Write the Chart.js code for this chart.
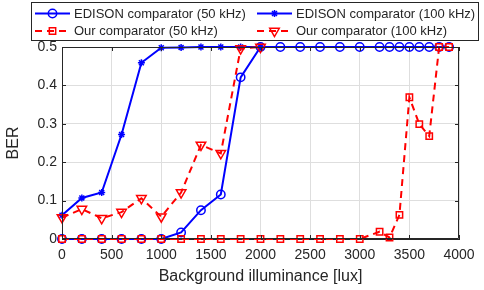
<!DOCTYPE html>
<html>
<head>
<meta charset="utf-8">
<script src="https://cdn.jsdelivr.net/npm/chart.js@4/dist/chart.umd.min.js"></script>
<style>
    html, body { margin: 0; padding: 0; background: #fff; }
</style>
</head>
<body>
<canvas id="grafico-ber" width="484" height="290"></canvas>
<script>
// --- 1. DATOS ---
const luxLargo = [0, 200, 400, 600, 800, 1000, 1200, 1400, 1600, 1800, 2000, 2200, 2400, 2600, 2800, 3000,
                  3200, 3300, 3400, 3500, 3600, 3700, 3800, 3900];
const luxCorto = [0, 200, 400, 600, 800, 1000, 1200, 1400, 1600, 1800, 2000];

const berEdison50 = [0, 0, 0, 0, 0, 0, 0.017, 0.075, 0.116, 0.421, 0.5, 0.5, 0.5, 0.5, 0.5, 0.5,
                     0.5, 0.5, 0.5, 0.5, 0.5, 0.5, 0.5, 0.5];
const berEdison100 = [0.062, 0.107, 0.121, 0.272, 0.459, 0.498, 0.499, 0.5, 0.5, 0.5, 0.5];
const berNuestro50 = [0, 0, 0, 0, 0, 0, 0, 0, 0, 0, 0, 0, 0, 0, 0, 0,
                      0.019, 0.004, 0.063, 0.369, 0.299, 0.268, 0.5, 0.5];
const berNuestro100 = [0.056, 0.078, 0.054, 0.07, 0.106, 0.058, 0.121, 0.245, 0.223, 0.496, 0.5];

const etiquetas = ['EDISON comparator (50 kHz)', 'EDISON comparator (100 kHz)',
                   'Our comparator (50 kHz)', 'Our comparator (100 kHz)'];
const ticksX = [0, 500, 1000, 1500, 2000, 2500, 3000, 3500, 4000];
const ticksY = [0, 0.1, 0.2, 0.3, 0.4, 0.5];

const AZUL = '#0000ff';
const ROJO = '#ff0000';
const GRIS = '#262626';
const FUENTE = "'Liberation Sans', Arial, sans-serif";

const puntos = (xs, ys) => xs.map((x, i) => ({ x: x, y: ys[i] }));

// --- 2. PLUGIN: caja estilo MATLAB + leyenda ---
function dibujarMarcador(ctx, ds, x, y) {
    const r = ds.pointRadius;
    ctx.save();
    ctx.setLineDash([]);
    ctx.strokeStyle = ds.pointBorderColor;
    ctx.lineWidth = ds.pointBorderWidth;
    ctx.beginPath();
    if (ds.pointStyle === 'circle') {
        ctx.arc(x, y, r, 0, Math.PI * 2);
    } else if (ds.pointStyle === 'rect') {
        const s = r * Math.SQRT1_2;
        ctx.rect(x - s, y - s, 2 * s, 2 * s);
    } else if (ds.pointStyle === 'triangle') {
        let a = Math.PI; // apuntando hacia abajo
        ctx.moveTo(x + Math.sin(a) * r, y - Math.cos(a) * r);
        a += 2 * Math.PI / 3;
        ctx.lineTo(x + Math.sin(a) * r, y - Math.cos(a) * r);
        a += 2 * Math.PI / 3;
        ctx.lineTo(x + Math.sin(a) * r, y - Math.cos(a) * r);
        ctx.closePath();
    } else if (ds.pointStyle === 'star') {
        for (let k = 0; k < 4; k++) {
            const a = k * Math.PI / 4;
            ctx.moveTo(x - Math.cos(a) * r, y - Math.sin(a) * r);
            ctx.lineTo(x + Math.cos(a) * r, y + Math.sin(a) * r);
        }
    }
    ctx.stroke();
    ctx.restore();
}

const cajaYLeyenda = {
    id: 'cajaYLeyenda',
    afterDraw(chart) {
        const ctx = chart.ctx;
        const a = chart.chartArea;
        const sx = chart.scales.x, sy = chart.scales.y;
        ctx.save();

        // Marco completo y marcas hacia dentro
        ctx.strokeStyle = GRIS;
        ctx.lineWidth = 1;
        ctx.beginPath();
        ctx.rect(a.left + 0.5, a.top + 0.5, a.right - a.left - 1, a.bottom - a.top - 1);
        ticksX.forEach(v => {
            const px = Math.round(sx.getPixelForValue(v)) + 0.5;
            ctx.moveTo(px, a.bottom); ctx.lineTo(px, a.bottom - 4);
            ctx.moveTo(px, a.top); ctx.lineTo(px, a.top + 4);
        });
        ticksY.forEach(v => {
            const py = Math.round(sy.getPixelForValue(v)) + 0.5;
            ctx.moveTo(a.left, py); ctx.lineTo(a.left + 4, py);
            ctx.moveTo(a.right, py); ctx.lineTo(a.right - 4, py);
        });
        ctx.stroke();

        // Leyenda 2x2 con borde
        ctx.fillStyle = '#fff';
        ctx.fillRect(31.5, 2.5, 447, 38);
        ctx.strokeRect(31.5, 2.5, 447, 38);
        const columnas = [35, 257];
        const filas = [13.5, 31];
        chart.data.datasets.forEach((ds, i) => {
            const x0 = columnas[i % 2];
            const y = filas[Math.floor(i / 2)];
            ctx.strokeStyle = ds.borderColor;
            ctx.lineWidth = ds.borderWidth;
            ctx.setLineDash(ds.borderDash || []);
            ctx.beginPath();
            ctx.moveTo(x0, y); ctx.lineTo(x0 + 35, y);
            ctx.stroke();
            ctx.setLineDash([]);
            dibujarMarcador(ctx, ds, x0 + 17.5, y);
            ctx.fillStyle = GRIS;
            ctx.font = '13px ' + FUENTE;
            ctx.textBaseline = 'middle';
            ctx.fillText(ds.label, x0 + 39, y + 0.5);
        });
        ctx.restore();
    }
};

// --- 3. GRÁFICO ---
const serie = (label, xs, ys, color, estilo, radio, extra) => Object.assign({
    label: label,
    data: puntos(xs, ys),
    borderColor: color,
    borderWidth: 2,
    pointStyle: estilo,
    pointRadius: radio,
    pointBorderWidth: 1.5,
    pointBorderColor: color,
    pointBackgroundColor: 'rgba(0,0,0,0)',
    tension: 0,
    clip: false
}, extra);

new Chart(document.getElementById('grafico-ber'), {
    type: 'line',
    data: {
        datasets: [
            serie(etiquetas[0], luxLargo, berEdison50, AZUL, 'circle', 4.2, { order: 4 }),
            serie(etiquetas[1], luxCorto, berEdison100, AZUL, 'star', 3.5, { order: 3 }),
            serie(etiquetas[2], luxLargo, berNuestro50, ROJO, 'rect', 4.5, { order: 2, borderDash: [7, 5] }),
            serie(etiquetas[3], luxCorto, berNuestro100, ROJO, 'triangle', 5.5, { order: 1, borderDash: [7, 5], pointRotation: 180 })
        ]
    },
    options: {
        responsive: false,
        animation: false,
        events: [],
        layout: { padding: { left: 0, right: 25, top: 47, bottom: 0 } },
        plugins: {
            legend: { display: false },
            tooltip: { enabled: false }
        },
        scales: {
            x: {
                type: 'linear',
                min: 0,
                max: 4000,
                afterBuildTicks: s => { s.ticks = ticksX.map(v => ({ value: v })); },
                afterFit: s => { s.height = 51; },
                grid: { color: '#dedede', drawTicks: false },
                border: { color: GRIS },
                ticks: {
                    font: { family: FUENTE, size: 14 }, color: GRIS, padding: 8, maxRotation: 0, autoSkip: false,
                    callback: v => String(v)
                },
                title: { display: true, text: 'Background illuminance [lux]', font: { family: FUENTE, size: 16 }, color: GRIS, padding: { top: 0, bottom: 4 } }
            },
            y: {
                type: 'linear',
                min: 0,
                max: 0.5,
                afterBuildTicks: s => { s.ticks = ticksY.map(v => ({ value: v })); },
                afterFit: s => { s.width = 62; },
                grid: { color: '#dedede', drawTicks: false },
                border: { color: GRIS },
                ticks: {
                    font: { family: FUENTE, size: 14 }, color: GRIS, padding: 5,
                    callback: v => String(Number(v.toFixed(1)))
                },
                title: { display: true, text: 'BER', font: { family: FUENTE, size: 16 }, color: GRIS, padding: { top: 4, bottom: 0 } }
            }
        }
    },
    plugins: [cajaYLeyenda]
});
</script>
</body>
</html>
